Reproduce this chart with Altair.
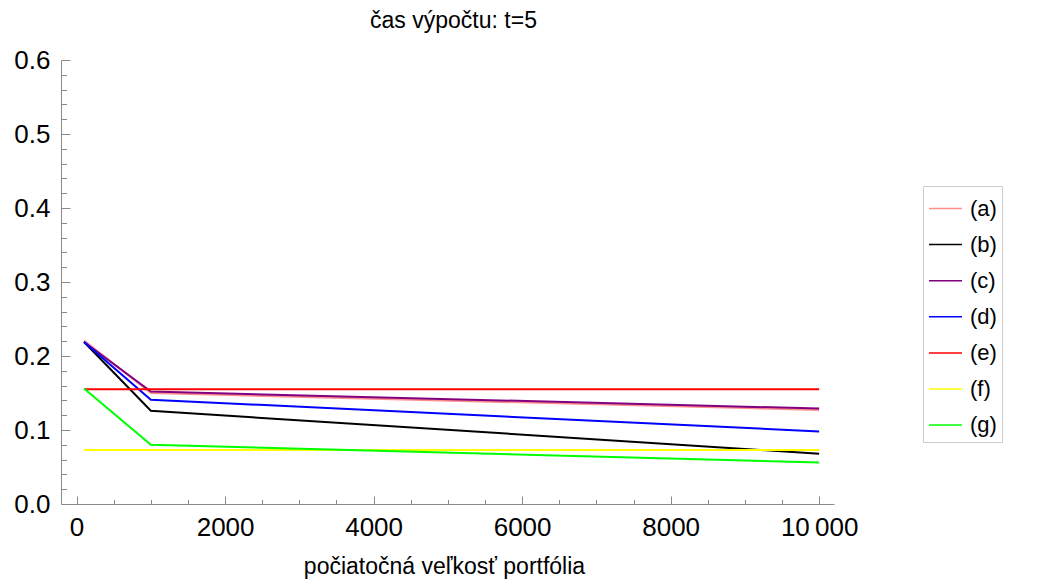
import altair as alt
import pandas as pd

# ---- data ----
sizes = [100, 1000, 10000]
series_names = ["(a)", "(b)", "(c)", "(d)", "(e)", "(f)", "(g)"]
vals_a = [0.221, 0.150, 0.127]
vals_b = [0.219, 0.126, 0.068]
vals_c = [0.219, 0.152, 0.129]
vals_d = [0.219, 0.141, 0.098]
vals_e = [0.155, 0.155, 0.155]
vals_f = [0.073, 0.073, 0.073]
vals_g = [0.156, 0.080, 0.056]
colors = ["#ff8f8f", "#000000", "#800080", "#0000ff", "#ff0000", "#ffff00", "#00ff00"]

x_major = [0, 2000, 4000, 6000, 8000, 10000]
x_ticks = list(range(0, 10001, 500))
y_major = [0.0, 0.1, 0.2, 0.3, 0.4, 0.5, 0.6]
y_ticks = [round(i * 0.02, 2) for i in range(31)]

all_vals = [vals_a, vals_b, vals_c, vals_d, vals_e, vals_f, vals_g]
rows = []
for name, vals in zip(series_names, all_vals):
    for xv, yv in zip(sizes, vals):
        rows.append({"x": xv, "y": yv, "s": name})
df = pd.DataFrame(rows)

W, H = 773, 444
FONT = "Liberation Sans"
AXC = "#8a8a8a"

xscale = alt.Scale(domain=[-210, 10200], nice=False, zero=False)
yscale = alt.Scale(domain=[0, 0.6], nice=False, zero=False)

nbsp = "\u00a0" * 16

lines = alt.Chart(df).mark_line(strokeWidth=2).encode(
    x=alt.X("x:Q", scale=xscale,
            axis=alt.Axis(orient="bottom", values=x_major, ticks=False, tickSize=0,
                          grid=False, domainColor=AXC, domainWidth=1,
                          labelFontSize=26, labelFont=FONT, labelColor="black",
                          labelPadding=10, labelOverlap=False, labelFlush=False,
                          labelExpr="datum.value == 10000 ? '10\u2009000' : format(datum.value, 'd')",
                          title="počiatočná veľkosť portfólia", titleFont=FONT,
                          titleFontSize=23, titleFontWeight="normal", titleColor="black",
                          titleBaseline="alphabetic", titleX=383, titleY=69)),
    y=alt.Y("y:Q", scale=yscale,
            axis=alt.Axis(orient="left", values=y_major, format=".1f", ticks=False, tickSize=0,
                          grid=False, domainColor=AXC, domainWidth=1,
                          labelFontSize=26, labelFont=FONT, labelColor="black",
                          labelPadding=11, labelOverlap=False, labelFlush=False, title=None)),
    color=alt.Color("s:N", scale=alt.Scale(domain=series_names, range=colors),
                    legend=alt.Legend(orient="none", legendX=862, legendY=126, title=None,
                                      symbolType="stroke", symbolSize=1089,
                                      symbolStrokeWidth=1.5, labelFontSize=22,
                                      labelFont=FONT, labelColor="black", labelOffset=7,
                                      padding=5, rowPadding=7.1, strokeColor="#cccccc",
                                      fillColor="white",
                                      labelExpr="datum.label + '" + nbsp + "'")),
)

ticks_layer = alt.Chart(df).mark_point(opacity=0).encode(
    x=alt.X("x:Q", scale=xscale,
            axis=alt.Axis(orient="top", offset=-H, values=x_ticks, labels=False, domain=False,
                          grid=False, tickColor=AXC, tickWidth=1, title=None,
                          tickSize={"condition": {"test": "datum.value % 2000 === 0", "value": 8},
                                    "value": 4.5})),
    y=alt.Y("y:Q", scale=yscale,
            axis=alt.Axis(orient="right", offset=-W, values=y_ticks, labels=False, domain=False,
                          grid=False, tickColor=AXC, tickWidth=1, title=None,
                          tickSize={"condition": {"test": "abs(datum.value*10 - round(datum.value*10)) < 0.001",
                                                  "value": 9},
                                    "value": 5.5})),
)

chart = alt.layer(lines, ticks_layer).properties(
    width=W, height=H,
    autosize=alt.AutoSizeParams(type="none"),
    padding={"left": 53, "top": 52, "right": 207, "bottom": 75},
    background="white",
    title=alt.TitleParams("čas výpočtu: t=5", font=FONT, fontSize=23, fontWeight="normal",
                          color="black", anchor="middle", frame="group", dx=6, dy=-10),
).configure_view(stroke=None)

chart.save("out.html", embed_options={"renderer": "svg", "actions": False})
